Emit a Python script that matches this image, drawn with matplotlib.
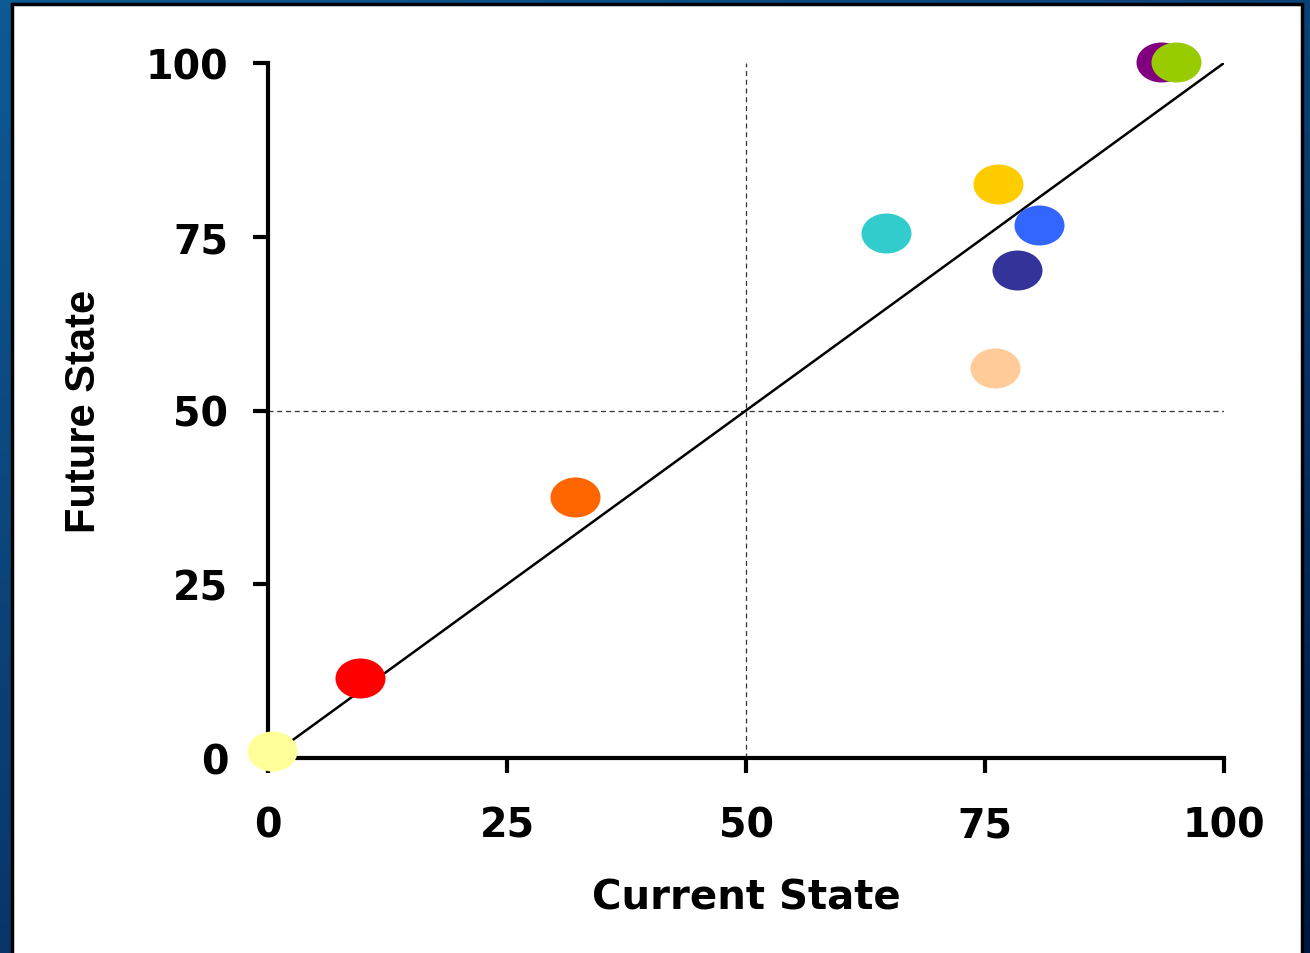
import numpy as np
import matplotlib
matplotlib.use('Agg')
import matplotlib.pyplot as plt
from matplotlib.path import Path
from matplotlib.transforms import Affine2D
from matplotlib.patches import Rectangle

plt.rcParams['font.family'] = ['DejaVu Sans']

# data
current_state = [0.4, 9.6, 32.1, 64.6, 76.4, 80.6, 78.3, 76.0, 93.4, 95.0]
future_state = [1.0, 11.5, 37.6, 75.5, 82.6, 76.7, 70.2, 56.1, 100.1, 100.1]
point_colors = ['#FFFF99', '#FF0000', '#FF6600', '#33CCCC', '#FFCC00',
                '#3366FF', '#333399', '#FFCC99', '#800080', '#99CC00']
ticks = [0, 25, 50, 75, 100]

fig = plt.figure(figsize=(13.1, 9.54), dpi=100)

# blue gradient background + white panel
bg = fig.add_axes([0, 0, 1, 1], zorder=-10)
gy, gx = np.mgrid[0:1:200j, 0:1:200j]
grad = 0.6 * gy + 0.4 * gx
bg.imshow(grad, cmap=matplotlib.colors.LinearSegmentedColormap.from_list(
    'bg', ['#0E5A94', '#0A3C70', '#001840']), extent=[0, 1, 0, 1],
    aspect='auto', origin='upper')
bg.add_patch(Rectangle((12 / 1310, -0.01), (1302 - 12) / 1310, 1 - 5 / 954 + 0.01,
                       facecolor='white', edgecolor='black', linewidth=2.5))
bg.set_xlim(0, 1)
bg.set_ylim(0, 1)
bg.axis('off')

ax = fig.add_axes([268 / 1310, 1 - 759 / 954, (1224 - 268) / 1310, (759 - 64) / 954])
ax.set_facecolor('none')

# diagonal + quadrant lines
ax.plot([0, 100], [0, 100], color='black', linewidth=1.8, zorder=2)
ax.plot([50, 50], [0, 100], color='#333333', linewidth=0.9, linestyle=(0, (4, 3)), zorder=1)
ax.plot([0, 100], [50, 50], color='#333333', linewidth=0.9, linestyle=(0, (4, 3)), zorder=1)

# ellipse marker
ell = Path.unit_circle().transformed(Affine2D().scale(1.25, 1.0))
for x, y, c in zip(current_state, future_state, point_colors):
    ax.plot(x, y, marker=ell, markersize=36, color=c, markeredgewidth=0,
            linestyle='none', zorder=3, clip_on=False)

ax.set_xlim(0, 100)
ax.set_ylim(0, 100)
ax.set_xticks(ticks)
ax.set_yticks(ticks)
ax.spines['top'].set_visible(False)
ax.spines['right'].set_visible(False)
ax.spines['left'].set_linewidth(3)
ax.spines['bottom'].set_linewidth(3)
ax.tick_params(direction='out', length=10.5, width=3, labelsize=28.5)
ax.tick_params(axis='y', pad=18)
ax.tick_params(axis='x', pad=24)
for lbl in ax.get_xticklabels() + ax.get_yticklabels():
    lbl.set_fontweight('bold')

ax.set_xlabel('Current State', fontsize=29, fontweight='bold', labelpad=23)
ax.set_ylabel('Future State', fontsize=30, fontweight='bold', labelpad=30,
              family='Liberation Sans')

fig.savefig('out.png', dpi=100)
